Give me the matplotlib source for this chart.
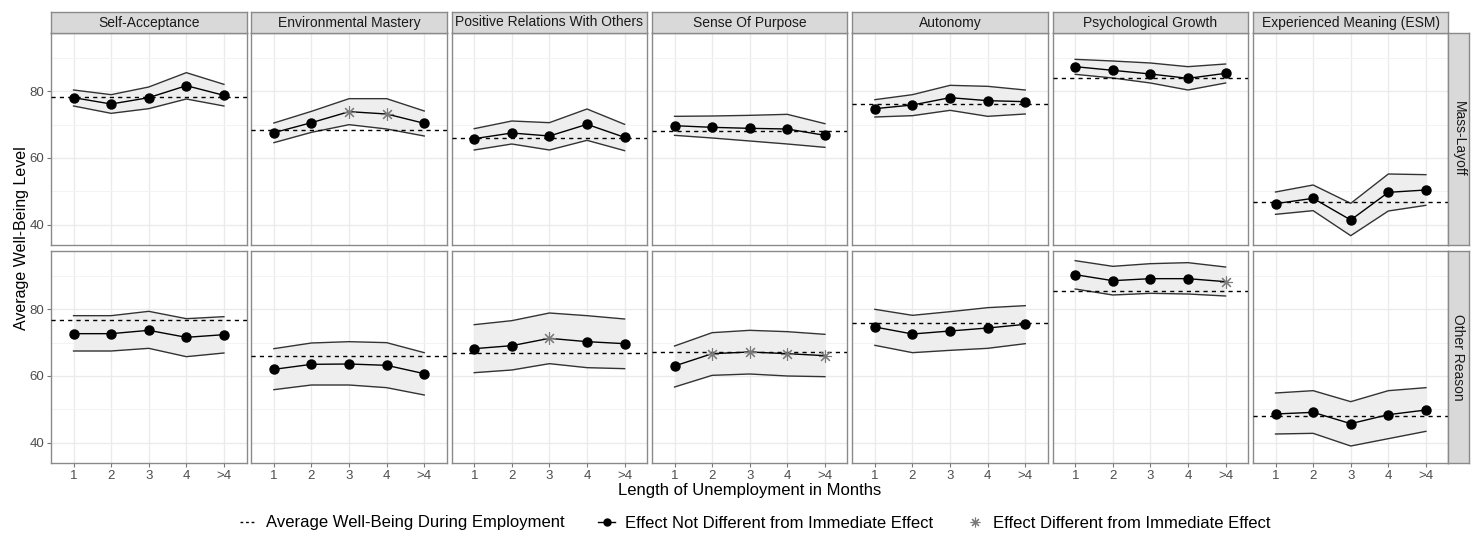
import matplotlib
matplotlib.use("Agg")
import matplotlib.pyplot as plt
from matplotlib.lines import Line2D

plt.rcParams["font.family"] = ["Liberation Sans", "DejaVu Sans"]

# ---- data ----
months = ["1", "2", "3", "4", ">4"]
facets = ["Self-Acceptance", "Environmental Mastery", "Positive Relations With Others",
          "Sense Of Purpose", "Autonomy", "Psychological Growth",
          "Experienced Meaning (ESM)"]
reasons = ["Mass-Layoff", "Other Reason"]

ml_estimate = [
    [78.1, 76.2, 78.1, 81.7, 78.8],
    [67.6, 70.6, 73.9, 73.2, 70.4],
    [65.8, 67.5, 66.6, 70.1, 66.2],
    [69.7, 69.2, 68.9, 68.7, 66.8],
    [74.8, 75.9, 78.1, 77.2, 76.9],
    [87.4, 86.3, 85.2, 83.9, 85.4],
    [46.3, 47.9, 41.4, 49.7, 50.4],
]
ml_lower = [
    [75.6, 73.4, 74.8, 77.7, 75.6],
    [64.6, 67.7, 70.0, 68.7, 66.6],
    [62.4, 64.2, 62.4, 65.3, 62.2],
    [66.8, 66.0, 65.1, 64.2, 63.2],
    [72.3, 72.7, 74.3, 72.5, 73.2],
    [85.1, 84.0, 82.5, 80.4, 82.5],
    [43.1, 44.2, 36.7, 44.1, 45.8],
]
ml_upper = [
    [80.4, 79.0, 81.3, 85.6, 82.1],
    [70.5, 74.0, 77.8, 77.8, 74.1],
    [68.8, 71.1, 70.6, 74.7, 70.1],
    [72.5, 72.6, 72.8, 73.1, 70.3],
    [77.5, 79.0, 81.8, 81.5, 80.4],
    [89.6, 89.1, 88.5, 87.4, 88.2],
    [49.8, 51.9, 46.4, 55.2, 55.0],
]
ml_employed = [78.3, 68.3, 66.0, 68.1, 76.3, 83.9, 46.9]
ml_different = [
    [0, 0, 0, 0, 0],
    [0, 0, 1, 1, 0],
    [0, 0, 0, 0, 0],
    [0, 0, 0, 0, 0],
    [0, 0, 0, 0, 0],
    [0, 0, 0, 0, 0],
    [0, 0, 0, 0, 0],
]

or_estimate = [
    [72.7, 72.7, 73.7, 71.6, 72.4],
    [62.0, 63.5, 63.6, 63.2, 60.7],
    [68.2, 69.1, 71.3, 70.3, 69.7],
    [63.0, 66.7, 67.2, 66.7, 66.1],
    [74.7, 72.6, 73.5, 74.4, 75.5],
    [90.4, 88.6, 89.2, 89.2, 88.3],
    [48.6, 49.1, 45.7, 48.4, 49.8],
]
or_lower = [
    [67.5, 67.5, 68.3, 65.8, 66.9],
    [55.9, 57.3, 57.3, 56.5, 54.3],
    [61.0, 61.8, 63.7, 62.5, 62.2],
    [56.7, 60.2, 60.6, 60.0, 59.8],
    [69.2, 67.0, 67.7, 68.3, 69.7],
    [86.1, 84.3, 84.8, 84.6, 84.0],
    [42.6, 42.8, 39.0, 41.2, 43.4],
]
or_upper = [
    [78.1, 78.1, 79.4, 77.2, 77.8],
    [68.2, 69.9, 70.3, 70.0, 67.0],
    [75.4, 76.6, 78.9, 78.1, 77.1],
    [69.0, 73.0, 73.7, 73.3, 72.5],
    [80.0, 78.2, 79.3, 80.5, 81.1],
    [94.6, 92.9, 93.7, 94.0, 92.7],
    [54.9, 55.6, 52.3, 55.6, 56.5],
]
or_employed = [76.7, 66.0, 67.0, 67.2, 75.8, 85.6, 47.9]
or_different = [
    [0, 0, 0, 0, 0],
    [0, 0, 0, 0, 0],
    [0, 0, 1, 0, 0],
    [0, 1, 1, 1, 1],
    [0, 0, 0, 0, 0],
    [0, 0, 0, 0, 1],
    [0, 0, 0, 0, 0],
]

rows = [
    (ml_estimate, ml_lower, ml_upper, ml_employed, ml_different),
    (or_estimate, or_lower, or_upper, or_employed, or_different),
]

# ---- layout in pixels ----
W, H = 1472, 534
fig = plt.figure(figsize=(W / 100, H / 100), dpi=100)

def px_axes(left, top, width, height):
    return fig.add_axes([left / W, 1 - (top + height) / H, width / W, height / H])

PANEL_L, PANEL_STEP, PANEL_W = 51, 200.33, 195.5
ROW_TOP, ROW_H = [33, 251], 212
BORDER = "#8a8a8a"
STAR = (8, 2, 0)
STAR_COL = "#7a7a7a"
xs = list(range(1, len(months) + 1))

for r, (est, lo, hi, emp, diff) in enumerate(rows):
    for c, name in enumerate(facets):
        ax = px_axes(PANEL_L + PANEL_STEP * c, ROW_TOP[r], PANEL_W, ROW_H)
        ax.set_xlim(0.4, 5.6)
        ax.set_ylim(33.9, 97.5)
        ax.set_xticks(xs)
        ax.set_xticklabels(months)
        ax.set_yticks([40, 60, 80])
        ax.set_yticks([50, 70, 90], minor=True)
        ax.set_axisbelow(True)
        ax.grid(which="major", color="#ebebeb", lw=1.0)
        ax.grid(which="minor", axis="y", color="#f3f3f3", lw=0.7)
        ax.tick_params(which="minor", length=0)
        ax.tick_params(length=3, width=0.8, color="#777777",
                       labelsize=9.5, labelcolor="#4d4d4d", pad=2)
        if c > 0:
            ax.tick_params(axis="y", length=0, labelleft=False)
        if r == 0:
            ax.tick_params(axis="x", length=0, labelbottom=False)
        for s in ax.spines.values():
            s.set_color(BORDER); s.set_linewidth(1.0)

        ax.fill_between(xs, lo[c], hi[c], color="#eeeeee", lw=0, zorder=1)
        ax.plot(xs, lo[c], color="#333333", lw=1.0, zorder=2)
        ax.plot(xs, hi[c], color="#333333", lw=1.0, zorder=2)
        ax.plot(xs, est[c], color="black", lw=1.0, zorder=3)
        ax.axhline(emp[c], color="black", lw=1.0, ls=(0, (3, 3)), zorder=4)
        for x, y, d in zip(xs, est[c], diff[c]):
            if d:
                ax.plot(x, y, marker=STAR, ms=9, color=STAR_COL, mew=0.8, zorder=5)
            else:
                ax.plot(x, y, marker="o", ms=6.5, color="black", zorder=5)

        if r == 0:
            st = px_axes(PANEL_L + PANEL_STEP * c, 12, PANEL_W, 21)
            st.set_facecolor("#d9d9d9")
            st.set_xticks([]); st.set_yticks([])
            for s in st.spines.values():
                s.set_color(BORDER); s.set_linewidth(1.0)
            st.text(0.5, 0.5, name, ha="center", va="center", fontsize=10,
                    color="#1a1a1a", transform=st.transAxes)

    st = px_axes(1448, ROW_TOP[r], 21, ROW_H)
    st.set_facecolor("#d9d9d9")
    st.set_xticks([]); st.set_yticks([])
    for s in st.spines.values():
        s.set_color(BORDER); s.set_linewidth(1.0)
    st.text(0.5, 0.5, reasons[r], ha="center", va="center", rotation=-90,
            fontsize=10, color="#1a1a1a", transform=st.transAxes)

fig.text(22 / W, 1 - 238 / H, "Average Well-Being Level", rotation=90,
         ha="center", va="center", fontsize=11.5)
fig.text(749.5 / W, 1 - 491 / H, "Length of Unemployment in Months",
         ha="center", va="center", fontsize=12)

handles = [
    Line2D([], [], color="black", lw=1.0, ls=(0, (2, 2))),
    Line2D([], [], color="black", marker="o", ms=5, lw=1.0),
    Line2D([], [], color=STAR_COL, marker=STAR, ms=7, lw=0, mew=0.8),
]
labels = ["Average Well-Being During Employment",
          "Effect Not Different from Immediate Effect",
          "Effect Different from Immediate Effect"]
fig.legend(handles, labels, loc="center", bbox_to_anchor=(755 / W, 1 - 523 / H),
           ncol=3, frameon=False, fontsize=12, handlelength=1.0,
           handletextpad=0.6, columnspacing=2.0)

fig.savefig("out.png", dpi=100)
